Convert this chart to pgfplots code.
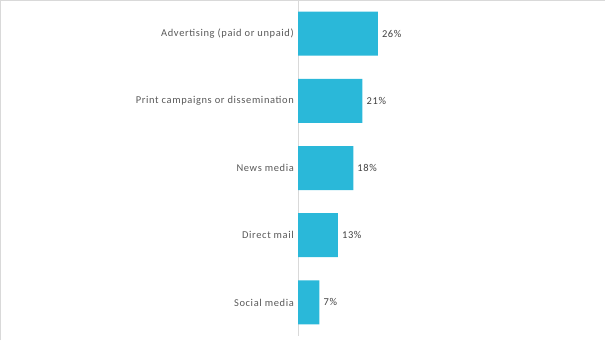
\documentclass[border=0pt]{standalone}
\usepackage{pgfplots}
\pgfplotsset{compat=1.18}
\usepackage{fontspec}
\setmainfont{Carlito}
\newfontfamily\labfont[LetterSpace=6]{Carlito}
\definecolor{barblue}{HTML}{2AB8D9}
\definecolor{gridgray}{HTML}{D9D9D9}
\definecolor{labgray}{HTML}{595959}
\begin{document}
\begin{tikzpicture}[x=1bp,y=1bp]
\path[use as bounding box] (0,0) rectangle (605,340);
\draw[gridgray,line width=1bp] (0.5,0) -- (0.5,339.5) -- (605,339.5);
\begin{axis}[
  at={(298bp,4bp)}, anchor=south west,
  scale only axis,
  width=307bp, height=336bp,
  xmin=0, xmax=100,
  ymin=-0.5, ymax=4.5,
  y dir=reverse,
  axis x line=none,
  axis y line*=left,
  y axis line style={draw=gridgray, line width=1bp, -},
  ytick={0,1,2,3,4},
  yticklabels={Advertising (paid or unpaid),Print campaigns or dissemination,News media,Direct mail,Social media},
  major tick length=0pt,
  yticklabel style={font=\labfont\fontsize{10.5}{12}\selectfont, text=labgray, inner sep=0pt, xshift=-4bp},
  xbar, bar width=44bp, bar shift=0pt,
  nodes near coords={\pgfmathprintnumber{\pgfplotspointmeta}\%},
  /pgf/number format/assume math mode=true,
  every node near coord/.append style={font=\labfont\fontsize{10.5}{12}\selectfont, text=black!75, inner sep=0pt, xshift=4bp, anchor=west},
  clip=false,
]
\addplot[fill=barblue, draw=none] coordinates {(26,0) (21,1) (18,2) (13,3) (7,4)};
\end{axis}
\end{tikzpicture}
\end{document}
